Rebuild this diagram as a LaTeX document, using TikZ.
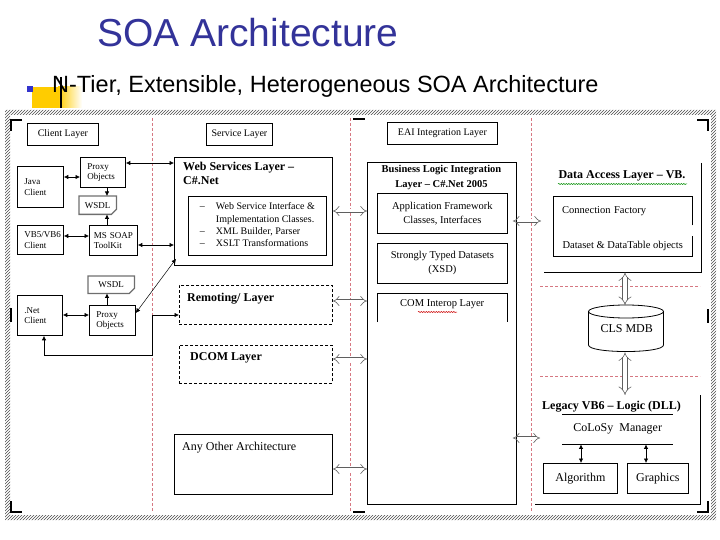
\documentclass[tikz,border=0pt]{standalone}
\usepackage{fontspec}
\setmainfont{Liberation Serif}
\newfontfamily\slidefont{Liberation Sans}
\usetikzlibrary{arrows.meta,patterns,decorations.pathmorphing}
\definecolor{titleblue}{RGB}{51,51,153}
\definecolor{bulletblue}{RGB}{51,51,204}
\definecolor{slideyellow}{RGB}{255,204,0}
\definecolor{guidered}{RGB}{214,120,130}
\definecolor{wsdlgray}{RGB}{110,110,110}
\definecolor{hollowgray}{RGB}{95,95,95}
\begin{document}
\begin{tikzpicture}[x=1pt,y=-1pt,
  f9/.style={font=\fontsize{9}{10.5}\selectfont},
  f10/.style={font=\fontsize{10}{12}\selectfont},
  f105/.style={font=\fontsize{10.5}{14}\selectfont},
  f12/.style={font=\fontsize{12}{14}\selectfont},
  b10/.style={font=\fontsize{10.5}{15}\selectfont\bfseries},
  b12/.style={font=\fontsize{12}{14}\selectfont\bfseries},
  box/.style={draw, line width=0.8pt, anchor=north west, inner sep=0pt},
  plain/.style={anchor=north west, inner sep=0pt},
  sz/.style 2 args={minimum width=#1, minimum height=#2},
  cbox/.style 2 args={draw, line width=0.8pt, anchor=north west, inner xsep=7pt, inner ysep=0pt, text width=#1, minimum height=#2, align=left, f9},
  dashbox/.style={box, dash pattern=on 3pt off 2pt},
  txt/.style={inner sep=0pt},
  ltip/.tip={Latex[length=4.5pt,width=4.5pt]},
  tarrow/.style={line width=0.7pt, ltip-ltip},
  sarrow/.style={line width=0.7pt, -ltip},
  hollow/.style={draw=hollowgray, line width=0.6pt, double=white, double distance=3pt, Implies-Implies},
  hollowv/.style={hollow, double distance=4pt},
  guide/.style={draw=guidered, line width=0.8pt, dash pattern=on 3pt off 2pt},
  cmark/.style={line width=2.5pt},
  edge/.style={line width=0.8pt},
  wavy/.style={line width=0.5pt, decorate, decoration={snake, amplitude=0.6pt, segment length=2.5pt}}
]
\useasboundingbox (0,0) rectangle (720,540);
% ---------- slide header ----------
\fill[slideyellow] (32,87) rectangle (58,108);
\shade[left color=slideyellow, right color=white] (58,87) rectangle (82,108);
\fill[bulletblue] (27,86) rectangle (33,92);
\node[anchor=base west, inner sep=0pt, text=titleblue, font=\slidefont\fontsize{39}{39}\selectfont] (title) at (97,47) {SOA Architecture};
\node[anchor=base west, inner sep=0pt, font=\slidefont\fontsize{23.5}{23.5}\selectfont] (bullet) at (52,93) {N-Tier, Extensible, Heterogeneous SOA Architecture};
\draw[line width=1.3pt] (61,77) -- (61,108);
% ---------- frame ----------
\fill[pattern=north east lines, pattern color=black!70, even odd rule] (5,110) rectangle (716,520) (10,115) rectangle (711,515);
\draw[guide] (152,118) -- (152,511);
\draw[guide] (350,118) -- (350,511);
\draw[guide] (531,118) -- (531,511);
\draw[guide] (540,286) -- (700,286);
\draw[guide] (540,376) -- (700,376);
\draw[cmark] (11,131) -- (11,120) -- (22,120);
\draw[cmark] (697,120) -- (708,120) -- (708,131);
\draw[cmark] (11,501) -- (11,512) -- (22,512);
\draw[cmark] (697,512) -- (708,512) -- (708,501);
\draw[cmark] (11,308) -- (11,322);
\draw[cmark] (708,309) -- (708,323);
\draw[cmark] (353,119) -- (365,119);
\draw[cmark] (353,512) -- (365,512);
% ---------- client layer ----------
\node[box, sz={71pt}{22pt}, f10] (clientlayer) at (27,123) {Client Layer};
\node[cbox={32pt}{41pt}] (java) at (17,166) {Java\\Client};
\node[cbox={31pt}{30pt}] (proxyA) at (80,157) {Proxy\\Objects};
\node[plain, sz={37pt}{18pt}, f9] (wsdlA) at (79,196) {WSDL};
\draw[wsdlgray, line width=1.3pt] (wsdlA.north west) -- (wsdlA.north east) -- ([yshift=5pt]wsdlA.south east) -- ([xshift=-5pt]wsdlA.south east) -- (wsdlA.south west) -- cycle;
\node[cbox={32pt}{29pt}] (vb) at (17,225) {VB5/VB6\\Client};
\node[cbox={39pt}{30pt}, inner xsep=4.5pt] (soap) at (89,225) {MS~SOAP\\ToolKit};
\node[plain, sz={46pt}{17pt}, f9] (wsdlB) at (88,276) {WSDL};
\draw[wsdlgray, line width=1.3pt] (wsdlB.north west) -- (wsdlB.north east) -- ([yshift=5pt]wsdlB.south east) -- ([xshift=-5pt]wsdlB.south east) -- (wsdlB.south west) -- cycle;
\node[cbox={31pt}{40pt}] (net) at (17,295) {.Net\\Client};
\node[cbox={32pt}{30pt}] (proxyB) at (89,305) {Proxy\\Objects};
% ---------- service layer ----------
\node[box, sz={66pt}{22pt}, f10] (servicelayer) at (206,123) {Service Layer};
\node[box, sz={158pt}{108pt}] (ws) at (174,157) {};
\node[plain, align=left, b12] (wstitle) at (183,162) {Web Services Layer --\\C\#.Net};
\node[box, sz={138pt}{59pt}, font=\fontsize{10}{12.3}\selectfont] (wsinner) at (188,196)
  {\begin{tabular}{@{}p{16pt}@{}l@{}}-- & Web Service Interface \&\\ & Implementation Classes.\\ -- & XML Builder, Parser\\ -- & XSLT Transformations\end{tabular}};
\node[dashbox, sz={153pt}{39pt}] (remoting) at (179,285) {};
\node[txt, anchor=west, b12] (remtitle) at (187,299) {Remoting/ Layer};
\node[dashbox, sz={153pt}{38pt}] (dcom) at (179,345) {};
\node[txt, anchor=west, b12] (dcomtitle) at (190,358) {DCOM Layer};
\node[box, sz={158pt}{60pt}] (other) at (174,434) {};
\node[txt, anchor=west, f12] (othertitle) at (182,448) {Any Other Architecture};
% ---------- business logic ----------
\node[box, sz={110pt}{22pt}, f10] (eai) at (387,122) {EAI Integration Layer};
\node[box, sz={149pt}{342pt}] (bli) at (367,162) {};
\node[txt, anchor=north, align=center, b10] (blititle) at (441.5,165) {Business Logic Integration\\Layer -- C\#.Net 2005};
\node[box, sz={130pt}{40pt}, align=center, f105] (appfw) at (377,193) {Application Framework\\Classes, Interfaces};
\node[box, sz={130pt}{40pt}, align=center, f105] (typed) at (377,243) {Strongly Typed Datasets\\(XSD)};
\node[plain, sz={130pt}{22pt}, f105] (com) at (377,293) {COM Interop Layer};
\draw[edge] (com.south west |- 0,322) -- (com.north west) -- (com.north east) -- (com.south east |- 0,322);
\draw[red!80!black, wavy] (418,312) -- (457,312);
% ---------- data access ----------
\node[plain, sz={157pt}{109pt}] (dal) at (544,163) {};
\draw[edge] (dal.north east) -- (dal.south east) -- (dal.south west);
\node[txt, b12] (daltitle) at (622,176) {Data Access Layer -- VB.};
\draw[green!55!black, wavy] (558,184) -- (687,184);
\node[plain, sz={139pt}{29pt}, inner xsep=9pt, text width=121pt, align=left, f105] (conn) at (553,196) {Connection Factory};
\node[plain, sz={139pt}{20pt}, f105] (dataset) at (553,236) {Dataset \& DataTable objects};
\draw[edge] (conn.south east) -- (conn.north east) -- (conn.north west) -- (dataset.south west) -- (dataset.south east) -- (dataset.north east);
\node[plain, sz={75pt}{47pt}, f12] (cls) at (589,305) {CLS MDB};
\draw[edge] (626,311.5) ellipse [x radius=37.5, y radius=6.5];
\draw[edge] (588.5,311.5) -- (588.5,345) .. controls (588.5,353.7) and (663.5,353.7) .. (663.5,345) -- (663.5,311.5);
% ---------- legacy ----------
\node[plain, sz={165pt}{109pt}] (legacy) at (535,395) {};
\draw[edge] (legacy.north east) -- (legacy.south east) -- (legacy.south west);
\node[txt, anchor=west, b12] (legtitle) at (542,407) {Legacy VB6 -- Logic (DLL)};
\node[plain, sz={111pt}{30pt}, f12] (colosy) at (562,414) {CoLoSy\ \ Manager};
\draw[edge] (colosy.north west) -- (colosy.north east);
\draw[edge] (colosy.south west) -- (colosy.south east);
\node[box, sz={74pt}{30pt}, f12] (algo) at (543,463) {Algorithm};
\node[box, sz={61pt}{30pt}, f12] (graphics) at (627,463) {Graphics};
% ---------- thin connectors ----------
\draw[tarrow] (java.east |- 0,177) -- (proxyA.west |- 0,177);
\draw[sarrow] (proxyA.south -| 107,0) -- (wsdlA.north -| 107,0);
\draw[sarrow] (soap.north -| 107,0) -- (wsdlA.south -| 107,0);
\draw[tarrow] (vb.east |- 0,236) -- (soap.west |- 0,236);
\draw[tarrow] (proxyA.east |- 0,163) -- (ws.west |- 0,163);
\draw[tarrow] (soap.east |- 0,245) -- (ws.west |- 0,245);
\draw[tarrow, line width=0.5pt] (proxyB.east |- 0,313) -- ([xshift=2pt,yshift=7pt]ws.south west);
\draw[tarrow] (net.east |- 0,315) -- (proxyB.west |- 0,315);
\draw[sarrow] (proxyB.north -| 107,0) -- (wsdlB.south -| 107,0);
\draw[tarrow] (net.south -| 44,0) |- (152,355) |- (remoting.west |- 0,315);
\draw[tarrow] (colosy.south -| 581,0) -- (algo.north -| 581,0);
\draw[tarrow] (colosy.south -| 646,0) -- (graphics.north -| 646,0);
% ---------- hollow connectors ----------
\draw[hollow] (ws.east |- 0,211) -- (bli.west |- 0,211);
\draw[hollow] (remoting.east |- 0,301) -- (bli.west |- 0,301);
\draw[hollow] (dcom.east |- 0,359) -- (bli.west |- 0,359);
\draw[hollow] (other.east |- 0,469) -- (bli.west |- 0,469);
\draw[hollow, shorten <=-4pt, shorten >=3pt] (bli.east |- 0,221) -- (dal.west |- 0,221);
\draw[hollow, shorten <=-4pt, shorten >=-5pt] (bli.east |- 0,438) -- (legacy.west |- 0,438);
\draw[hollowv] (dal.south -| 625,0) -- (cls.north -| 625,0);
\draw[hollowv] (cls.south -| 625,0) -- (legacy.north -| 625,0);
\end{tikzpicture}
\end{document}
